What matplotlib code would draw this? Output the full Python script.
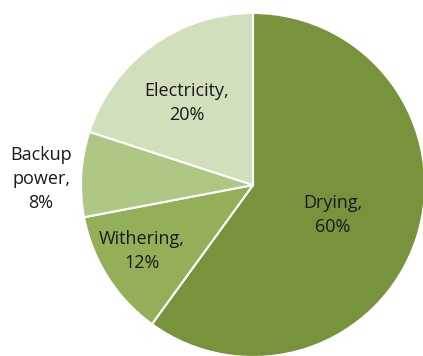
import matplotlib.pyplot as plt

# energy use shares
labels = ['Drying', 'Withering', 'Backup\npower', 'Electricity']
shares = [60, 12, 8, 20]
colors = ['#77933C', '#93B058', '#AEC784', '#D1DFBC']

# label centres in pixels (x from left, y from top)
label_px = [(333, 215), (142, 251), (41, 179), (187, 103)]

W, H = 423, 356
cx, cy, r = 253, 185, 172

fig = plt.figure(figsize=(W / 100, H / 100), dpi=100)
ax = fig.add_axes([(cx - r) / W, (H - cy - r) / H, 2 * r / W, 2 * r / H])

ax.pie(shares, colors=colors, startangle=90, counterclock=False,
       wedgeprops=dict(edgecolor='white', linewidth=1.5))
ax.set_xlim(-1, 1)
ax.set_ylim(-1, 1)

for lab, val, (px, py) in zip(labels, shares, label_px):
    ax.text((px - cx) / r, (cy - py) / r, f'{lab},\n{val}%',
            ha='center', va='center', fontsize=13, linespacing=1.4,
            family='Open Sans', color='#1a1a1a', clip_on=False)

fig.savefig('out.png', dpi=100)
